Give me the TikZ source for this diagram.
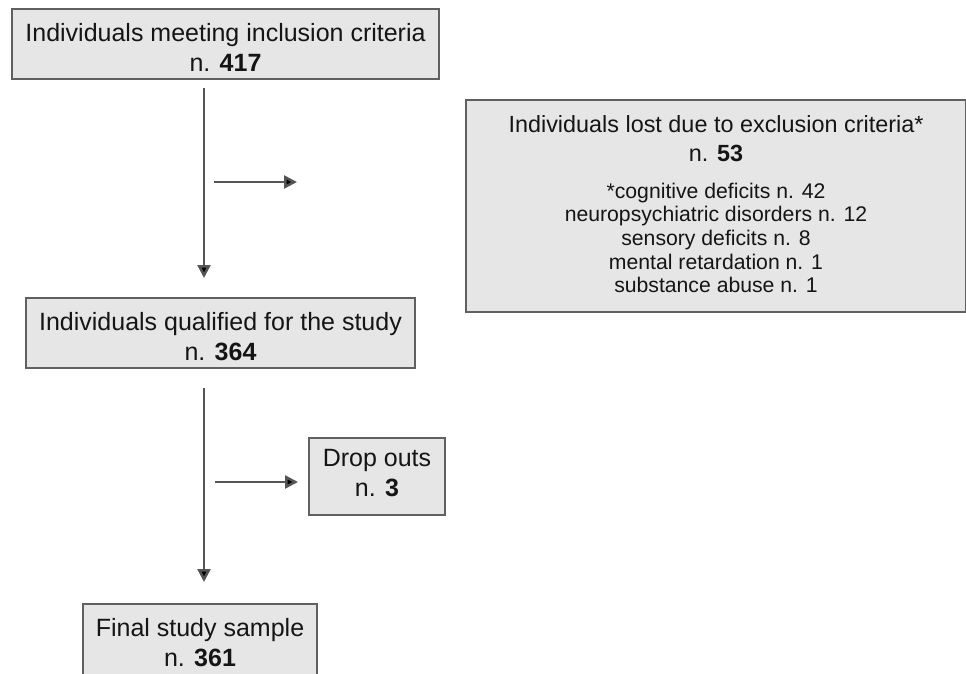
\documentclass[tikz,border=0pt]{standalone}
\usepackage{fontspec}
\setmainfont{Liberation Sans}
\usetikzlibrary{arrows.meta}
\definecolor{boxfill}{HTML}{E6E6E6}
\definecolor{boxline}{HTML}{606060}
\definecolor{arrline}{HTML}{555555}
\definecolor{txt}{HTML}{151515}
\tikzset{
  flowbox/.style={draw=boxline, line width=1.3pt, fill=boxfill, inner sep=0pt},
  boxtext/.style={align=center, text=txt, inner sep=0pt},
  flowarrow/.style={draw=arrline, line width=2.5pt, -{Triangle[length=13pt,width=13pt,fill=black]}},
  bigtext/.style={font=\fontsize{25}{30}\selectfont},
  midtext/.style={font=\fontsize{23.4}{29}\selectfont},
  smalltext/.style={font=\fontsize{21.2}{23.7}\selectfont}
}
\begin{document}
\begin{tikzpicture}[x=1pt,y=-1pt]
\useasboundingbox (0,0) rectangle (966,673);
\begin{scope}
\clip (0,0) rectangle (966,673);
\node[flowbox, minimum width=427pt, minimum height=70pt] (incl) at (225.5,44) {};
\node[boxtext, bigtext] (inclt) at (225.5,47) {Individuals meeting inclusion criteria\\n. \textbf{417}};
\node[flowbox, minimum width=500pt, minimum height=212pt] (excl) at (716,206) {};
\node[boxtext, midtext] (exclt) at (716,139) {Individuals lost due to exclusion criteria*\\n. \textbf{53}};
\node[boxtext, smalltext] (excll) at (716,238) {*cognitive deficits n. 42\\neuropsychiatric disorders n. 12\\sensory deficits n. 8\\mental retardation n. 1\\substance abuse n. 1};
\node[flowbox, minimum width=389pt, minimum height=70pt] (qual) at (220.5,333) {};
\node[boxtext, bigtext] (qualt) at (220.5,337) {Individuals qualified for the study\\n. \textbf{364}};
\node[flowbox, minimum width=136pt, minimum height=77pt] (drop) at (377,476.5) {};
\node[boxtext, bigtext] (dropt) at (377,473) {Drop outs\\n. \textbf{3}};
\node[flowbox, minimum width=234pt, minimum height=90pt] (final) at (200,649) {};
\node[boxtext, bigtext] (finalt) at (200,643) {Final study sample\\n. \textbf{361}};
\end{scope}
\coordinate (v1s) at (204,88);
\coordinate (v1e) at (204,278);
\coordinate (h1s) at (214,182);
\coordinate (h1e) at (297,182);
\coordinate (v2s) at (204,388);
\coordinate (v2e) at (204,582);
\coordinate (h2s) at (215,482);
\coordinate (h2e) at (298,482);
\draw[flowarrow] (v1s) -- (v1e);
\draw[flowarrow] (h1s) -- (h1e);
\draw[flowarrow] (v2s) -- (v2e);
\draw[flowarrow] (h2s) -- (h2e);
\end{tikzpicture}
\end{document}
